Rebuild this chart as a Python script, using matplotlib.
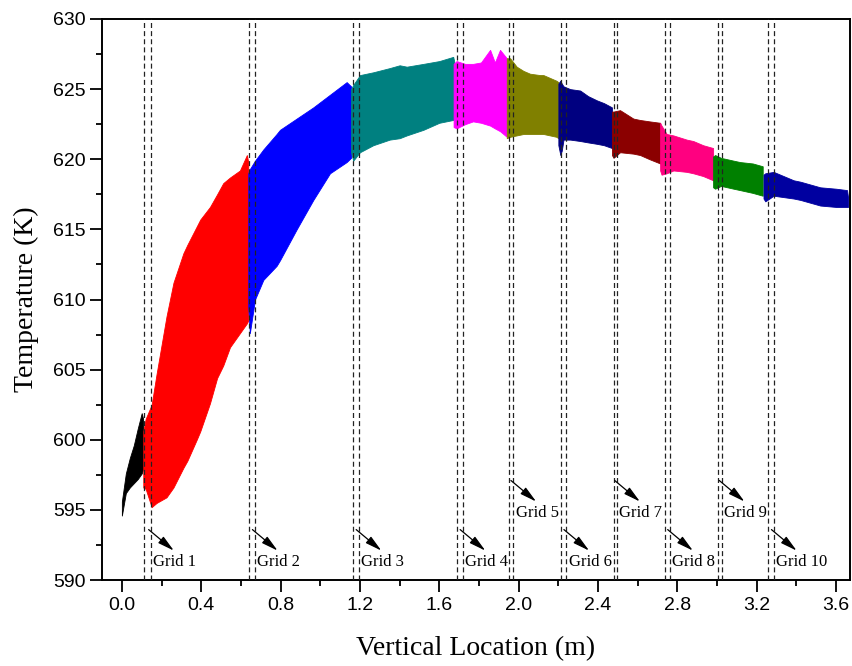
import matplotlib
matplotlib.use("Agg")
import matplotlib.pyplot as plt
from matplotlib.ticker import MultipleLocator

# temperature envelope of each grid segment: x (m), lower (K), upper (K)
seg_colors = ["black", "#ff0000", "#0000ff", "#008080", "#ff00ff", "#808000",
              "#000080", "#8b0000", "#ff0080", "#008000", "#0000a0"]

seg_x = [
    [0.0, 0.02, 0.04, 0.06, 0.08, 0.10, 0.107],
    [0.108, 0.12, 0.15, 0.175, 0.225, 0.26, 0.31, 0.33, 0.377, 0.395, 0.444, 0.48, 0.511, 0.545, 0.595, 0.63, 0.637],
    [0.637, 0.645, 0.671, 0.713, 0.78, 0.797, 0.881, 0.965, 1.049, 1.133, 1.155],
    [1.155, 1.166, 1.2, 1.267, 1.35, 1.40, 1.436, 1.52, 1.60, 1.67, 1.675],
    [1.672, 1.687, 1.73, 1.77, 1.81, 1.856, 1.88, 1.906, 1.94],
    [1.94, 1.957, 1.99, 2.024, 2.057, 2.108, 2.125, 2.19, 2.20],
    [2.20, 2.21, 2.217, 2.226, 2.26, 2.31, 2.35, 2.394, 2.43, 2.47],
    [2.47, 2.478, 2.511, 2.578, 2.612, 2.66, 2.713],
    [2.713, 2.72, 2.746, 2.78, 2.847, 2.88, 2.93, 2.98],
    [2.98, 2.99, 3.02, 3.083, 3.116, 3.18, 3.23],
    [3.234, 3.243, 3.285, 3.386, 3.42, 3.52, 3.60, 3.655, 3.66],
]
seg_lo = [
    [594.6, 596.2, 596.6, 596.9, 597.2, 597.6, 597.9],
    [596.6, 596.5, 595.2, 595.5, 595.9, 596.6, 598.0, 598.5, 600.0, 600.6, 602.6, 604.4, 605.3, 606.6, 607.6, 608.3, 608.5],
    [609.5, 607.6, 610.0, 611.4, 612.4, 612.8, 615.0, 617.1, 619.0, 619.8, 620.1],
    [620.5, 619.9, 620.5, 621.0, 621.4, 621.5, 621.7, 622.1, 622.6, 622.8, 622.9],
    [622.3, 622.2, 622.5, 622.7, 622.6, 622.4, 622.2, 622.0, 621.6],
    [621.5, 621.6, 621.7, 621.8, 621.8, 621.8, 621.8, 621.6, 621.5],
    [621.0, 620.3, 620.6, 621.4, 621.4, 621.3, 621.2, 621.1, 621.0, 620.8],
    [620.3, 620.1, 620.5, 620.4, 620.3, 620.0, 619.7],
    [619.2, 618.9, 619.0, 619.2, 619.1, 619.0, 618.8, 618.5],
    [618.0, 617.9, 618.1, 617.9, 617.8, 617.6, 617.4],
    [617.2, 617.0, 617.4, 617.2, 617.1, 616.7, 616.6, 616.6, 616.6],
]
seg_hi = [
    [595.6, 597.6, 598.7, 599.6, 600.8, 601.9, 601.5],
    [600.6, 601.5, 602.5, 604.7, 608.8, 611.2, 613.3, 613.9, 615.2, 615.7, 616.6, 617.5, 618.3, 618.7, 619.2, 620.3, 619.8],
    [619.0, 619.3, 619.9, 620.7, 621.8, 622.1, 622.9, 623.7, 624.6, 625.5, 625.2],
    [625.0, 625.3, 626.0, 626.2, 626.5, 626.7, 626.6, 626.8, 627.0, 627.3, 627.0],
    [626.8, 627.0, 626.8, 626.8, 626.9, 627.8, 626.9, 627.8, 627.2],
    [627.2, 627.2, 626.6, 626.3, 626.1, 626.0, 626.0, 625.6, 625.5],
    [625.4, 625.6, 625.4, 625.2, 625.0, 624.9, 624.5, 624.2, 624.0, 623.7],
    [623.4, 623.4, 623.5, 622.9, 622.8, 622.7, 622.6],
    [622.6, 622.4, 621.8, 621.7, 621.4, 621.3, 621.0, 620.8],
    [620.2, 620.3, 620.1, 619.9, 619.8, 619.7, 619.5],
    [618.9, 619.0, 619.1, 618.5, 618.4, 618.0, 617.9, 617.8, 617.3],
]

# grid interfaces (pairs of dashed lines)
grid_left = [0.113, 0.640, 1.166, 1.690, 1.953, 2.213, 2.480, 2.736, 3.006, 3.259]
grid_right = [0.147, 0.670, 1.193, 1.717, 1.973, 2.240, 2.496, 2.763, 3.023, 3.286]
grid_labels = ["Grid 1", "Grid 2", "Grid 3", "Grid 4", "Grid 5",
               "Grid 6", "Grid 7", "Grid 8", "Grid 9", "Grid 10"]
grid_upper_row = [False, False, False, False, True, False, True, False, True, False]

fig = plt.figure(figsize=(8.53, 6.66), dpi=100)
ax = fig.add_axes([0.1196, 0.129, 0.8769, 0.8425])

for x, lo, hi, c in zip(seg_x, seg_lo, seg_hi, seg_colors):
    ax.fill_between(x, lo, hi, color=c, linewidth=0.6, edgecolor=c, zorder=2)

for xl, xr in zip(grid_left, grid_right):
    for xv in (xl, xr):
        ax.axvline(xv, color="#222222", linestyle=(0, (4, 2.5)), linewidth=0.9, zorder=3)

for xr, lab, up in zip(grid_right, grid_labels, grid_upper_row):
    y0 = 597.1 if up else 593.6
    ax.annotate("", xy=(xr + 0.115, y0 - 1.5), xytext=(xr - 0.012, y0),
                arrowprops=dict(arrowstyle="-|>,head_length=1.0,head_width=0.25",
                                color="black", lw=0.9, shrinkA=0, shrinkB=0),
                zorder=4)
    ax.text(xr + 0.012, y0 - 2.3, lab, family="Liberation Serif", fontsize=12,
            ha="left", va="center", zorder=4)

ax.set_xlim(-0.1, 3.67)
ax.set_ylim(590, 630)
ax.xaxis.set_major_locator(MultipleLocator(0.4))
ax.xaxis.set_minor_locator(MultipleLocator(0.2))
ax.yaxis.set_major_locator(MultipleLocator(5))
ax.yaxis.set_minor_locator(MultipleLocator(2.5))
ax.xaxis.set_major_formatter(plt.FuncFormatter(lambda v, p: "%.1f" % v))

ax.tick_params(which="major", length=8.5, width=1.3, direction="out", labelsize=14)
ax.tick_params(which="minor", length=4.3, width=1.3, direction="out")
for lab in ax.get_xticklabels() + ax.get_yticklabels():
    lab.set_family("Liberation Sans")
for s in ax.spines.values():
    s.set_linewidth(1.4)

ax.set_xlabel("Vertical Location (m)", family="Liberation Serif", fontsize=20, labelpad=16)
ax.set_ylabel("Temperature (K)", family="Liberation Serif", fontsize=20, labelpad=10)

fig.savefig("out.png", dpi=100)
